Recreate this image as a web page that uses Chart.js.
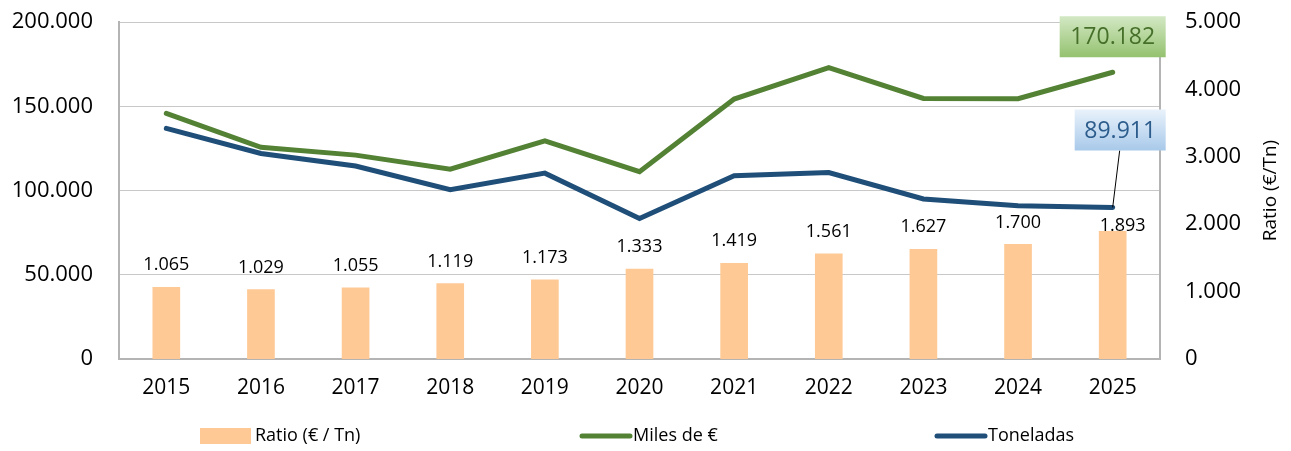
<!DOCTYPE html>
<html>
<head>
<meta charset="utf-8">
<script src="https://cdn.jsdelivr.net/npm/chart.js@4"></script>
<style>
  html, body { margin: 0; padding: 0; background: #fff; }
  #wrap { width: 1291px; height: 451px; position: relative; }
</style>
</head>
<body>
<div id="wrap"><canvas id="chart" width="1291" height="451"></canvas></div>
<script>
const years = ['2015', '2016', '2017', '2018', '2019', '2020', '2021', '2022', '2023', '2024', '2025']
const ratio = [1065, 1029, 1055, 1119, 1173, 1333, 1419, 1561, 1627, 1700, 1893]
const miles = [145800, 125600, 121000, 112700, 129500, 111200, 154300, 172900, 154600, 154500, 170182]
const toneladas = [136900, 122000, 114500, 100500, 110300, 83400, 108700, 110700, 95000, 90900, 89911]
const leftTicks = [0, 50000, 100000, 150000, 200000]
const rightTicks = [0, 1000, 2000, 3000, 4000, 5000]

const FONT = "'Open Sans', sans-serif"
const GREEN = '#548235'
const BLUE = '#1f4e79'
const ORANGE = '#fec995'

function fmt(v) {
    return String(Math.round(v)).replace(/\B(?=(\d{3})+(?!\d))/g, '.')
}

// bar value labels + callouts for last points
const labelsPlugin = {
    id: 'labels',
    afterDatasetsDraw(chart) {
        const ctx = chart.ctx
        const bars = chart.getDatasetMeta(0).data
        ctx.save()
        ctx.font = '18px ' + FONT
        ctx.fillStyle = '#000'
        ctx.textAlign = 'center'
        ctx.textBaseline = 'middle'
        bars.forEach((b, i) => {
            const last = i === bars.length - 1
            ctx.fillText(fmt(ratio[i]), b.x + (last ? 10 : 0), b.y - (last ? 6 : 22))
        })

        const gp = chart.getDatasetMeta(1).data[years.length - 1]
        const bp = chart.getDatasetMeta(2).data[years.length - 1]

        // leader line for the blue callout
        ctx.strokeStyle = '#000'
        ctx.lineWidth = 1
        ctx.beginPath()
        ctx.moveTo(bp.x + 7, bp.y - 57)
        ctx.lineTo(bp.x, bp.y)
        ctx.stroke()

        callout(ctx, gp.x - 53, gp.y - 56, 106, 41, '#d3e8c4', '#94c26f', '#46702a', fmt(miles[years.length - 1]))
        callout(ctx, bp.x - 38, bp.y - 98, 91, 41, '#e9f2fb', '#a8c9ea', '#2c5c8c', fmt(toneladas[years.length - 1]))

        // right axis title, reading bottom to top
        const ca = chart.chartArea
        ctx.translate(1271, (ca.top + ca.bottom) / 2)
        ctx.rotate(-Math.PI / 2)
        ctx.font = '19px ' + FONT
        ctx.fillStyle = '#000'
        ctx.fillText('Ratio (€/Tn)', 0, 0)
        ctx.restore()
    }
}

function callout(ctx, x, y, w, h, c1, c2, tc, text) {
    const g = ctx.createLinearGradient(0, y, 0, y + h)
    g.addColorStop(0, c1)
    g.addColorStop(1, c2)
    ctx.fillStyle = g
    ctx.fillRect(x, y, w, h)
    ctx.fillStyle = tc
    ctx.font = '23px ' + FONT
    ctx.textAlign = 'center'
    ctx.textBaseline = 'middle'
    ctx.fillText(text, x + w / 2, y + h / 2 + 1)
}

// legend drawn under the axis
const legendPlugin = {
    id: 'bottomLegend',
    afterDraw(chart) {
        const ctx = chart.ctx
        const y = 436
        ctx.save()
        ctx.font = '18px ' + FONT
        ctx.fillStyle = '#000'
        ctx.textBaseline = 'middle'
        ctx.textAlign = 'left'

        ctx.fillStyle = ORANGE
        ctx.fillRect(200, y - 8, 51, 16)
        ctx.fillStyle = '#000'
        ctx.fillText('Ratio (€ / Tn)', 255, y)

        ctx.lineCap = 'round'
        ctx.lineWidth = 5
        ctx.strokeStyle = GREEN
        ctx.beginPath(); ctx.moveTo(582, y); ctx.lineTo(630, y); ctx.stroke()
        ctx.fillText('Miles de €', 633, y)

        ctx.strokeStyle = BLUE
        ctx.beginPath(); ctx.moveTo(937, y); ctx.lineTo(985, y); ctx.stroke()
        ctx.fillText('Toneladas', 988, y)
        ctx.restore()
    }
}

new Chart(document.getElementById('chart'), {
    type: 'bar',
    data: {
        labels: years,
        datasets: [
            {
                label: 'Ratio (€ / Tn)',
                data: ratio,
                yAxisID: 'y1',
                backgroundColor: ORANGE,
                barThickness: 27,
                order: 3
            },
            {
                type: 'line',
                label: 'Miles de €',
                data: miles,
                yAxisID: 'y',
                borderColor: GREEN,
                backgroundColor: GREEN,
                borderWidth: 5,
                pointRadius: 0,
                tension: 0,
                borderCapStyle: 'round',
                order: 1
            },
            {
                type: 'line',
                label: 'Toneladas',
                data: toneladas,
                yAxisID: 'y',
                borderColor: BLUE,
                backgroundColor: BLUE,
                borderWidth: 5,
                pointRadius: 0,
                tension: 0,
                borderCapStyle: 'round',
                order: 2
            }
        ]
    },
    options: {
        responsive: false,
        animation: false,
        layout: { padding: { top: 22, bottom: 47, left: 0, right: 0 } },
        plugins: {
            legend: { display: false },
            tooltip: { enabled: false }
        },
        scales: {
            x: {
                grid: { display: false },
                border: { display: true, color: '#b4b4b4', width: 2 },
                ticks: { color: '#000', font: { family: FONT, size: 21 }, padding: 8 },
                afterFit(s) { s.height = 45 }
            },
            y: {
                position: 'left',
                min: 0,
                max: 200000,
                afterBuildTicks(s) { s.ticks = leftTicks.map(v => ({ value: v })) },
                grid: { color: '#c8c8c8', lineWidth: 1, drawTicks: false },
                border: { display: true, color: '#b4b4b4', width: 2 },
                ticks: { color: '#000', font: { family: FONT, size: 22 }, padding: 26, callback: v => fmt(v) },
                afterFit(s) { s.width = 119; s.paddingTop = 0; s.paddingBottom = 0 }
            },
            y1: {
                position: 'right',
                min: 0,
                max: 5000,
                afterBuildTicks(s) { s.ticks = rightTicks.map(v => ({ value: v })) },
                grid: { display: false, drawTicks: false },
                border: { display: true, color: '#b4b4b4', width: 2 },
                ticks: { color: '#000', font: { family: FONT, size: 22 }, padding: 25, callback: v => fmt(v) },
                afterFit(s) { s.width = 131; s.paddingTop = 0; s.paddingBottom = 0 }
            }
        }
    },
    plugins: [labelsPlugin, legendPlugin]
})
</script>
</body>
</html>
